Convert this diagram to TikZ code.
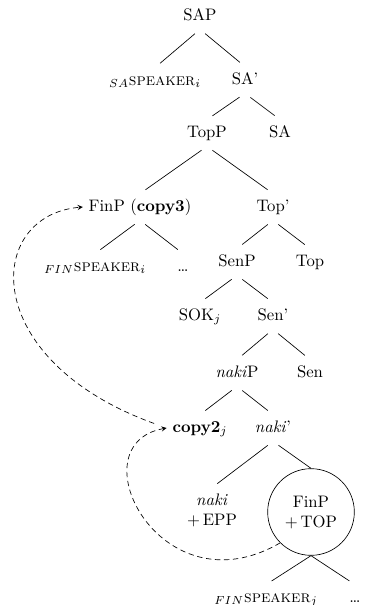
\documentclass[tikz,border=0pt]{standalone}
\usepackage{amsmath,amssymb}
\usepackage{tikz}
\usetikzlibrary{positioning,arrows}

\begin{document}
\begin{tikzpicture}[every node/.style={on grid,text height=7pt,text depth=2pt},
    stack/.style={align=center,text height=,text depth=},
    branch/.style={shorten <=4pt,shorten >=4pt},
    move/.style={->,>=stealth,dash pattern=on 3.2pt off 2.2pt}]
    \useasboundingbox (0,0) rectangle (219pt,-363pt);
    \node (SAP) at (120pt,-9.6pt) {SAP};
    \node[below left=39pt and 27pt of SAP] (SAspk) {$_{SA}$\textsc{speaker}$_i$};
    \node[below right=38.4pt and 27pt of SAP] (SAbar) {SA'};
    \node[below left=31.8pt and 22.8pt of SAbar] (TopP) {TopP};
    \node[below right=31.8pt and 21pt of SAbar] (SA) {SA};
    \node[below left=44.4pt and 40.2pt of TopP] (FinP) {FinP (\textbf{copy3})};
    \node[below right=44.4pt and 39.6pt of TopP] (Topbar) {Top'};
    \node[below left=36pt and 27pt of FinP] (FINspk) {$_{FIN}$\textsc{speaker}$_i$};
    \node[below right=36pt and 25.8pt of FinP] (dotsA) {\dots};
    \node[below left=33pt and 21.6pt of Topbar] (SenP) {SenP};
    \node[below right=33pt and 22.2pt of Topbar] (Top) {Top};
    \node[below left=32.4pt and 22.2pt of SenP] (SOK) {SOK$_j$};
    \node[below right=32.4pt and 21.6pt of SenP] (Senbar) {Sen'};
    \node[below left=34.2pt and 21.6pt of Senbar] (nakiP) {\textit{naki}P};
    \node[below right=34.2pt and 22.2pt of Senbar] (Sen) {Sen};
    \node[below left=33pt and 22.2pt of nakiP] (copy) {\textbf{copy2}$_j$};
    \node[below right=33pt and 21.6pt of nakiP] (nakibar) {\textit{naki}'};
    \node[stack,below left=49.2pt and 36.6pt of nakibar] (nakiEPP) {\textit{naki}\\$+$\,EPP};
    \node[stack,draw,circle,minimum size=52pt,below right=50.4pt and 22.8pt of nakibar] (FinPc) {FinP\\$+$\,TOP};
    \node[below left=51.6pt and 27pt of FinPc] (FINspkB) {$_{FIN}$\textsc{speaker}$_j$};
    \node[below right=51.6pt and 26.4pt of FinPc] (dotsB) {\dots};
    \draw[branch] (SAP.south) -- (SAspk.north);
    \draw[branch] (SAP.south) -- (SAbar.north);
    \draw[branch] (SAbar.south) -- (TopP.north);
    \draw[branch] (SAbar.south) -- (SA.north);
    \draw[branch] (TopP.south) -- (FinP.north);
    \draw[branch] (TopP.south) -- (Topbar.north);
    \draw[branch] (FinP.south) -- (FINspk.north);
    \draw[branch] (FinP.south) -- (dotsA.north);
    \draw[branch] (Topbar.south) -- (SenP.north);
    \draw[branch] (Topbar.south) -- (Top.north);
    \draw[branch] (SenP.south) -- (SOK.north);
    \draw[branch] (SenP.south) -- (Senbar.north);
    \draw[branch] (Senbar.south) -- (nakiP.north);
    \draw[branch] (Senbar.south) -- (Sen.north);
    \draw[branch] (nakiP.south) -- (copy.north);
    \draw[branch] (nakiP.south) -- (nakibar.north);
    \draw[branch] (nakibar.south) -- (nakiEPP.north);
    \draw[branch,shorten >=0pt] (nakibar.south) -- (FinPc.north);
    \draw[branch,shorten <=0pt] (FinPc.south) -- (FINspkB.north);
    \draw[branch,shorten <=0pt] (FinPc.south) -- (dotsB.north);
    \draw[move,shorten <=8pt] (copy.west) .. controls +(-113pt,41pt) and +(-59pt,-5pt) .. (FinP.west);
    \draw[move] (FinPc.225) .. controls +(-72pt,-42pt) and +(-55pt,-10pt) .. (copy.west);
  \end{tikzpicture}
\end{document}
